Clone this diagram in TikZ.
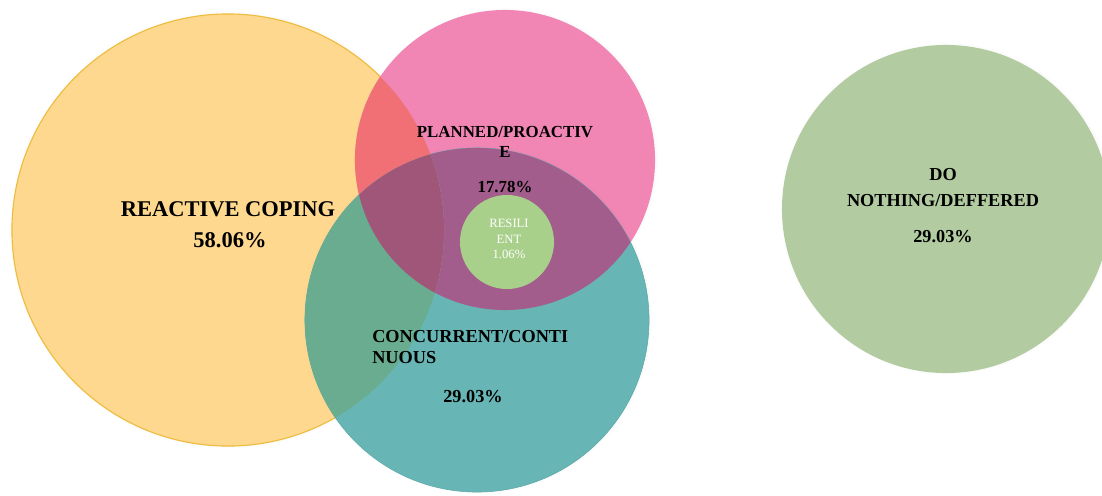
\documentclass[tikz,border=0pt]{standalone}
\usepackage{fontspec}
\setmainfont{Liberation Serif}
\usepackage{xcolor}
\usetikzlibrary{shadows}
\definecolor{reactfill}{RGB}{254,216,142}
\definecolor{reactline}{RGB}{238,188,62}
\definecolor{planfill}{RGB}{241,134,181}
\definecolor{concfill}{RGB}{103,182,181}
\definecolor{concline}{RGB}{92,168,168}
\definecolor{rpmix}{RGB}{240,112,118}
\definecolor{rcmix}{RGB}{106,172,143}
\definecolor{pcmix}{RGB}{163,93,141}
\definecolor{rpcmix}{RGB}{160,86,120}
\definecolor{resfill}{RGB}{168,208,138}
\definecolor{nothfill}{RGB}{178,203,160}

\begin{document}
\begin{tikzpicture}[x=0.025cm, y=-0.025cm,
    set/.style={circle, inner sep=0pt, circular drop shadow={shadow xshift=0.5pt, shadow yshift=0.5pt, shadow scale=1.015, opacity=.3}},
    bigtxt/.style={font=\bfseries\fontsize{16}{19}\selectfont, align=center, inner sep=0pt},
    midtxt/.style={font=\bfseries\fontsize{13}{15.5}\selectfont, align=center, inner sep=0pt},
    smalltxt/.style={font=\bfseries\fontsize{12}{14.4}\selectfont, align=center, inner sep=0pt},
    restxt/.style={font=\fontsize{9}{11.2}\selectfont, text=white, align=center, inner sep=0pt}
]
    \useasboundingbox (0,0) rectangle (1102,495);

    % the three coping sets
    \node[set, fill=reactfill, draw=reactline, line width=0.8pt, minimum size=10.8cm] (reactive) at (228,230) {};
    \node[set, fill=planfill, minimum size=7.5cm] (planned) at (505,160) {};
    \node[set, fill=concfill, draw=concline, line width=0.4pt, minimum size=8.6cm] (concurrent) at (477,320) {};

    % overlaps
    \begin{scope}
        \clip (planned.center) circle (3.75cm);
        \fill[pcmix] (concurrent.center) circle (4.3cm);
    \end{scope}
    \begin{scope}
        \clip (reactive.center) circle (5.4cm);
        \fill[rpmix] (planned.center) circle (3.75cm);
        \fill[rcmix] (concurrent.center) circle (4.3cm);
        \clip (planned.center) circle (3.75cm);
        \fill[rpcmix] (concurrent.center) circle (4.3cm);
    \end{scope}

    \node[set, fill=resfill, minimum size=2.35cm] (resilient) at (507,242) {};
    \node[set, fill=nothfill, minimum size=8.2cm] (nothing) at (946,209) {};

    % labels
    \node[bigtxt] (reactname) at (228,209) {REACTIVE COPING};
    \node[bigtxt] (reactpct) at (230,240) {58.06\%};
    \node[smalltxt] (planname) at (505,142) {PLANNED/PROACTIV\\E};
    \node[smalltxt] (planpct) at (505,187) {17.78\%};
    \node[restxt] (resname) at (509,239) {RESILI\\ENT\\1.06\%};
    \node[midtxt, align=left, anchor=west] (concname) at (372,347) {CONCURRENT/CONTI\\NUOUS};
    \node[midtxt] (concpct) at (473,397) {29.03\%};
    \node[midtxt] (nothname) at (943,188) {DO\\[3pt]NOTHING/DEFFERED};
    \node[midtxt] (nothpct) at (943,237) {29.03\%};
\end{tikzpicture}
\end{document}
